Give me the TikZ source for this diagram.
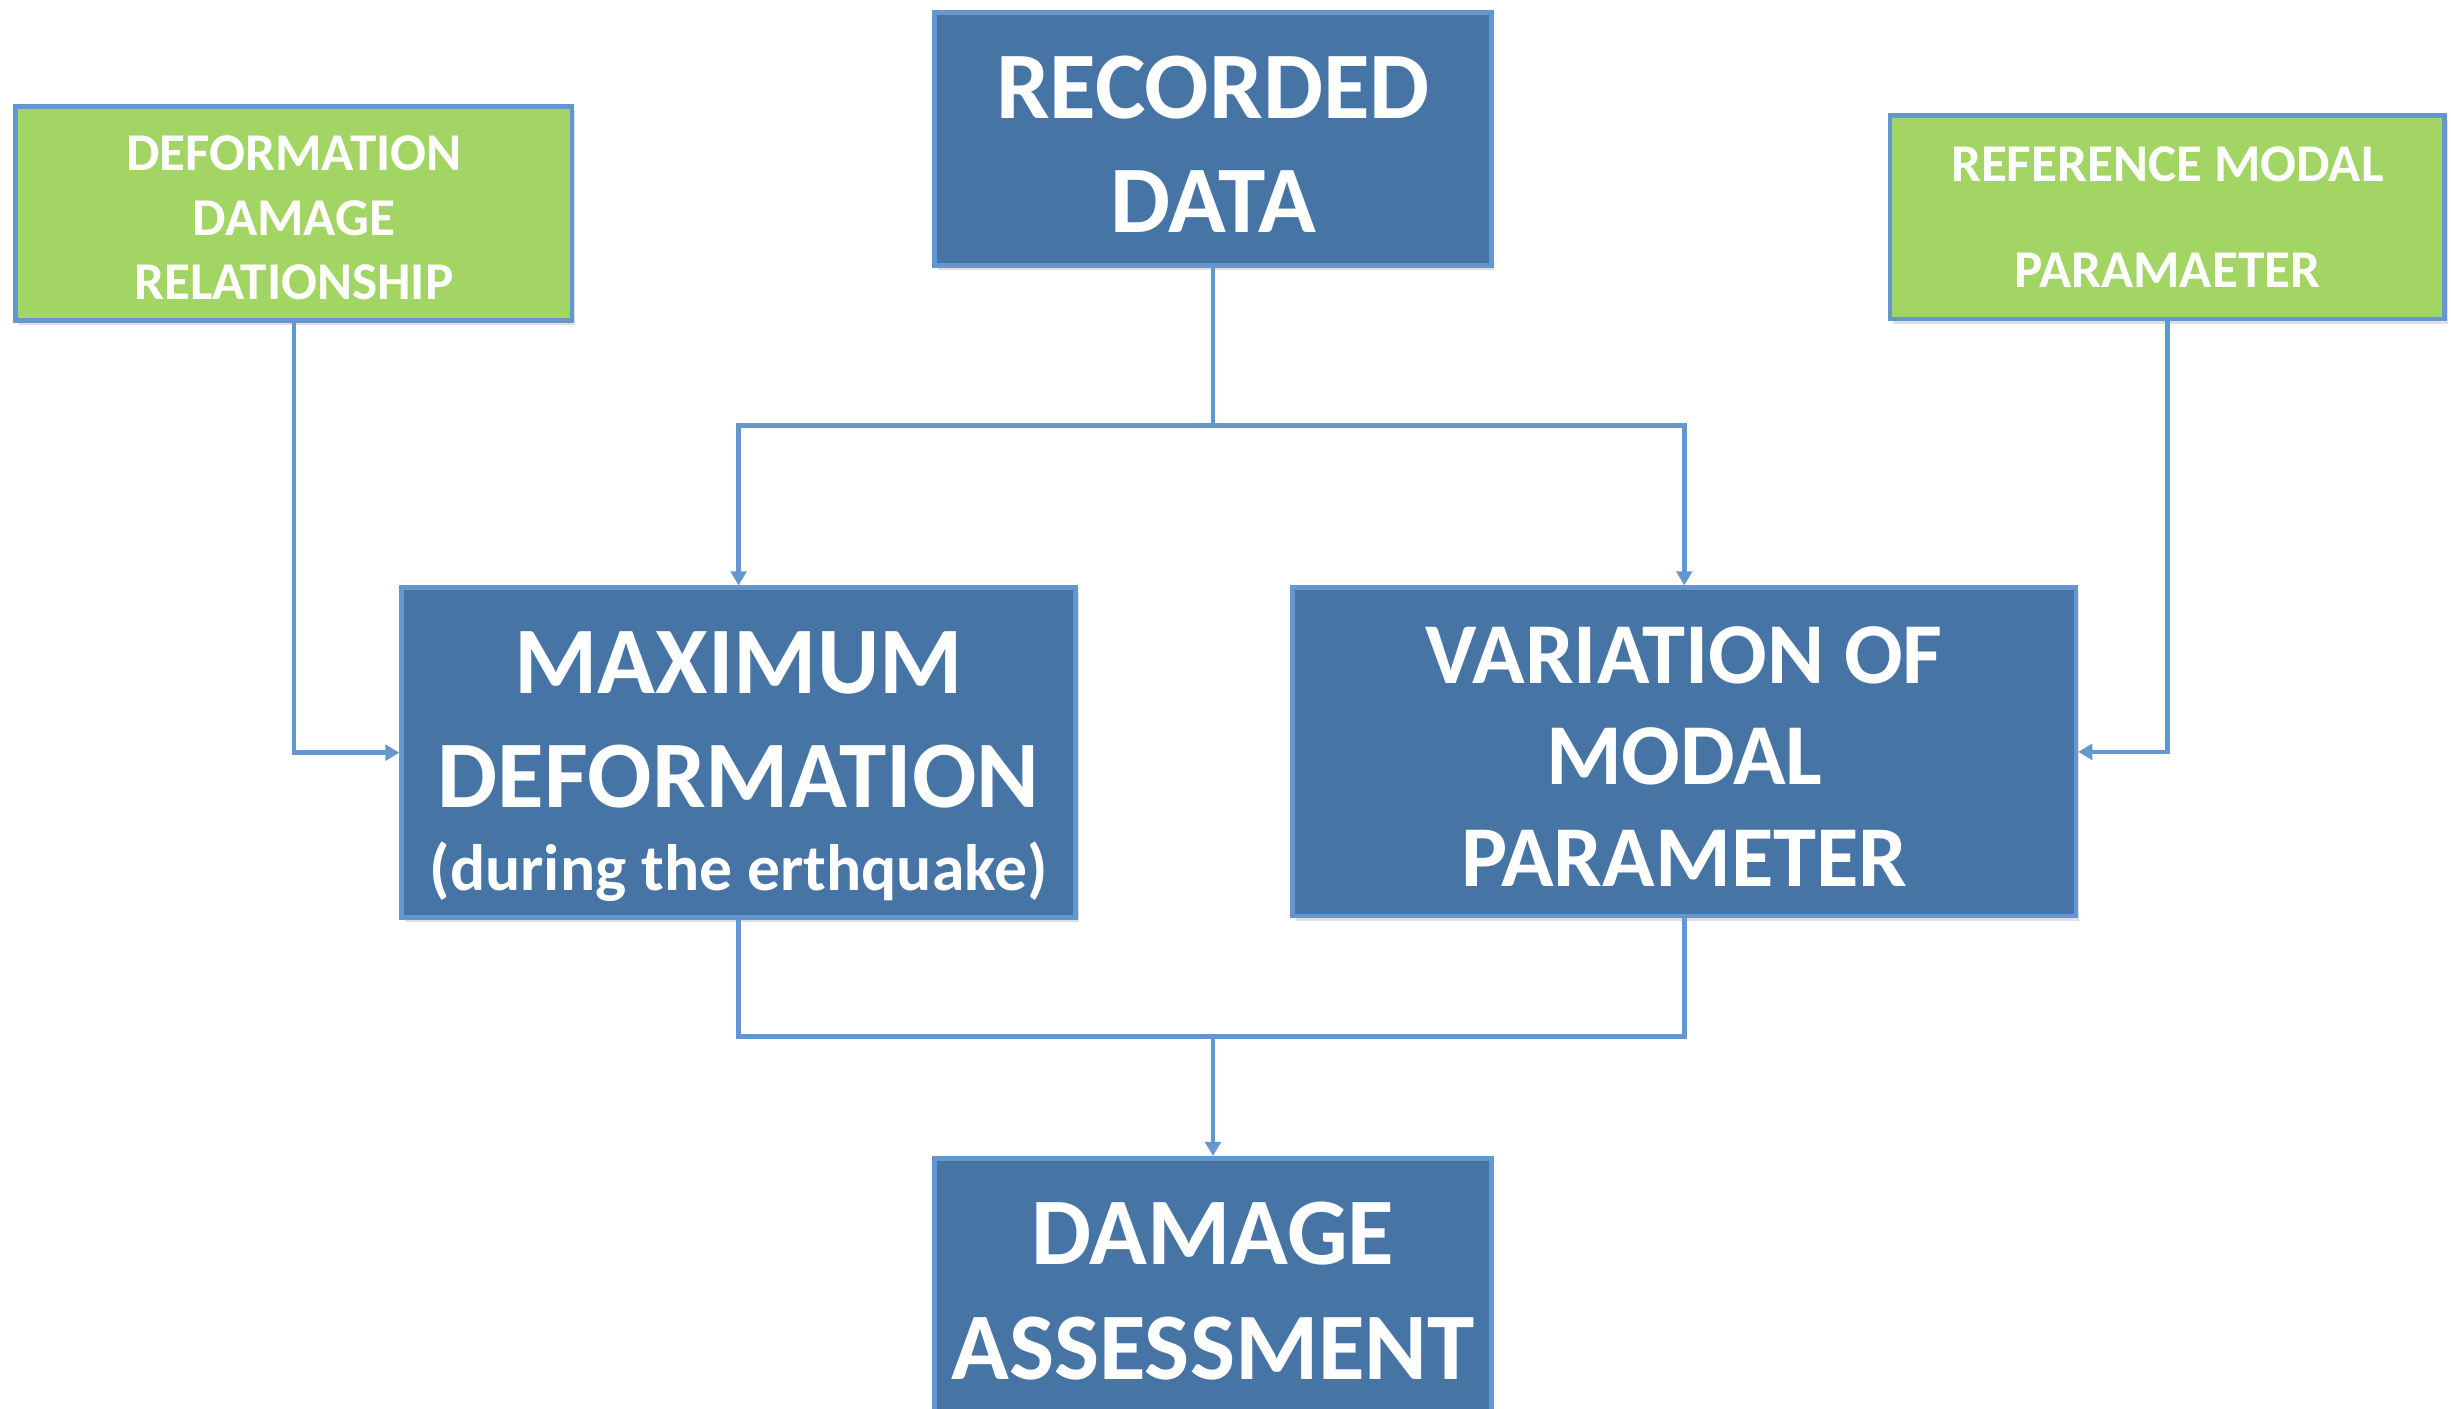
\documentclass[tikz,border=0pt]{standalone}
\usepackage{fontspec}
\setmainfont{Carlito}
\usetikzlibrary{arrows.meta,shadows}
\definecolor{boxblue}{RGB}{70,116,164}
\definecolor{edgeblue}{RGB}{99,151,205}
\definecolor{boxgreen}{RGB}{162,213,99}
\tikzset{
  base/.style={draw=edgeblue, line width=3pt, text=white, align=center, inner sep=0pt,
    drop shadow={shadow xshift=2pt, shadow yshift=-3pt, opacity=0.25}},
  bluebox/.style={base, fill=boxblue},
  greenbox/.style={base, fill=boxgreen},
  conn/.style={draw=edgeblue, line width=3pt},
  arr/.style={conn, -{Triangle[width=10pt,length=9pt]}},
}
\newcommand{\pushdown}[1]{\rule{0pt}{#1}}
\begin{document}
\begin{tikzpicture}[x=1pt,y=-1pt]
\useasboundingbox (0,0) rectangle (1568,901);
\clip (0,0) rectangle (1568,901);
\node[bluebox, minimum width=356pt, minimum height=162pt,
  font=\bfseries\fontsize{61}{73}\selectfont] (rec) at (776,89)
  {\pushdown{47pt}RECORDED\\DATA};
\node[greenbox, minimum width=356pt, minimum height=137pt,
  font=\bfseries\fontsize{34}{41}\selectfont] (ddr) at (188,136.5)
  {\pushdown{28pt}DEFORMATION\\DAMAGE\\RELATIONSHIP};
\node[greenbox, minimum width=355pt, minimum height=130pt,
  font=\bfseries\fontsize{34}{68}\selectfont] (ref) at (1386.5,139)
  {REFERENCE MODAL\\PARAMAETER};
\node[bluebox, minimum width=431pt, minimum height=211pt,
  font=\bfseries\fontsize{61}{73}\selectfont] (max) at (472.5,481.5)
  {\pushdown{57pt}MAXIMUM\\DEFORMATION\\[-20pt]{\fontsize{42}{50}\selectfont (during the erthquake)}};
\node[bluebox, minimum width=501pt, minimum height=210pt,
  font=\bfseries\fontsize{55.5}{65}\selectfont] (var) at (1077.5,481)
  {\pushdown{42pt}VARIATION OF\\MODAL\\PARAMETER};
\node[bluebox, minimum width=356pt, minimum height=170pt,
  font=\bfseries\fontsize{61}{74}\selectfont] (dam) at (776,826)
  {DAMAGE\\ASSESSMENT};
\coordinate (jt) at (776,272);
\coordinate (jb) at (776,663);
\draw[conn] (rec.south) -- (jt);
\draw[arr] (jt) -| (max.north);
\draw[arr] (jt) -| (var.north);
\draw[arr] (ddr.south) |- (max.west);
\draw[arr] (ref.south) |- (var.east);
\draw[conn] (max.south) |- (jb);
\draw[conn] (var.south) |- (jb);
\draw[arr] (jb) -- (dam.north);
\end{tikzpicture}
\end{document}
